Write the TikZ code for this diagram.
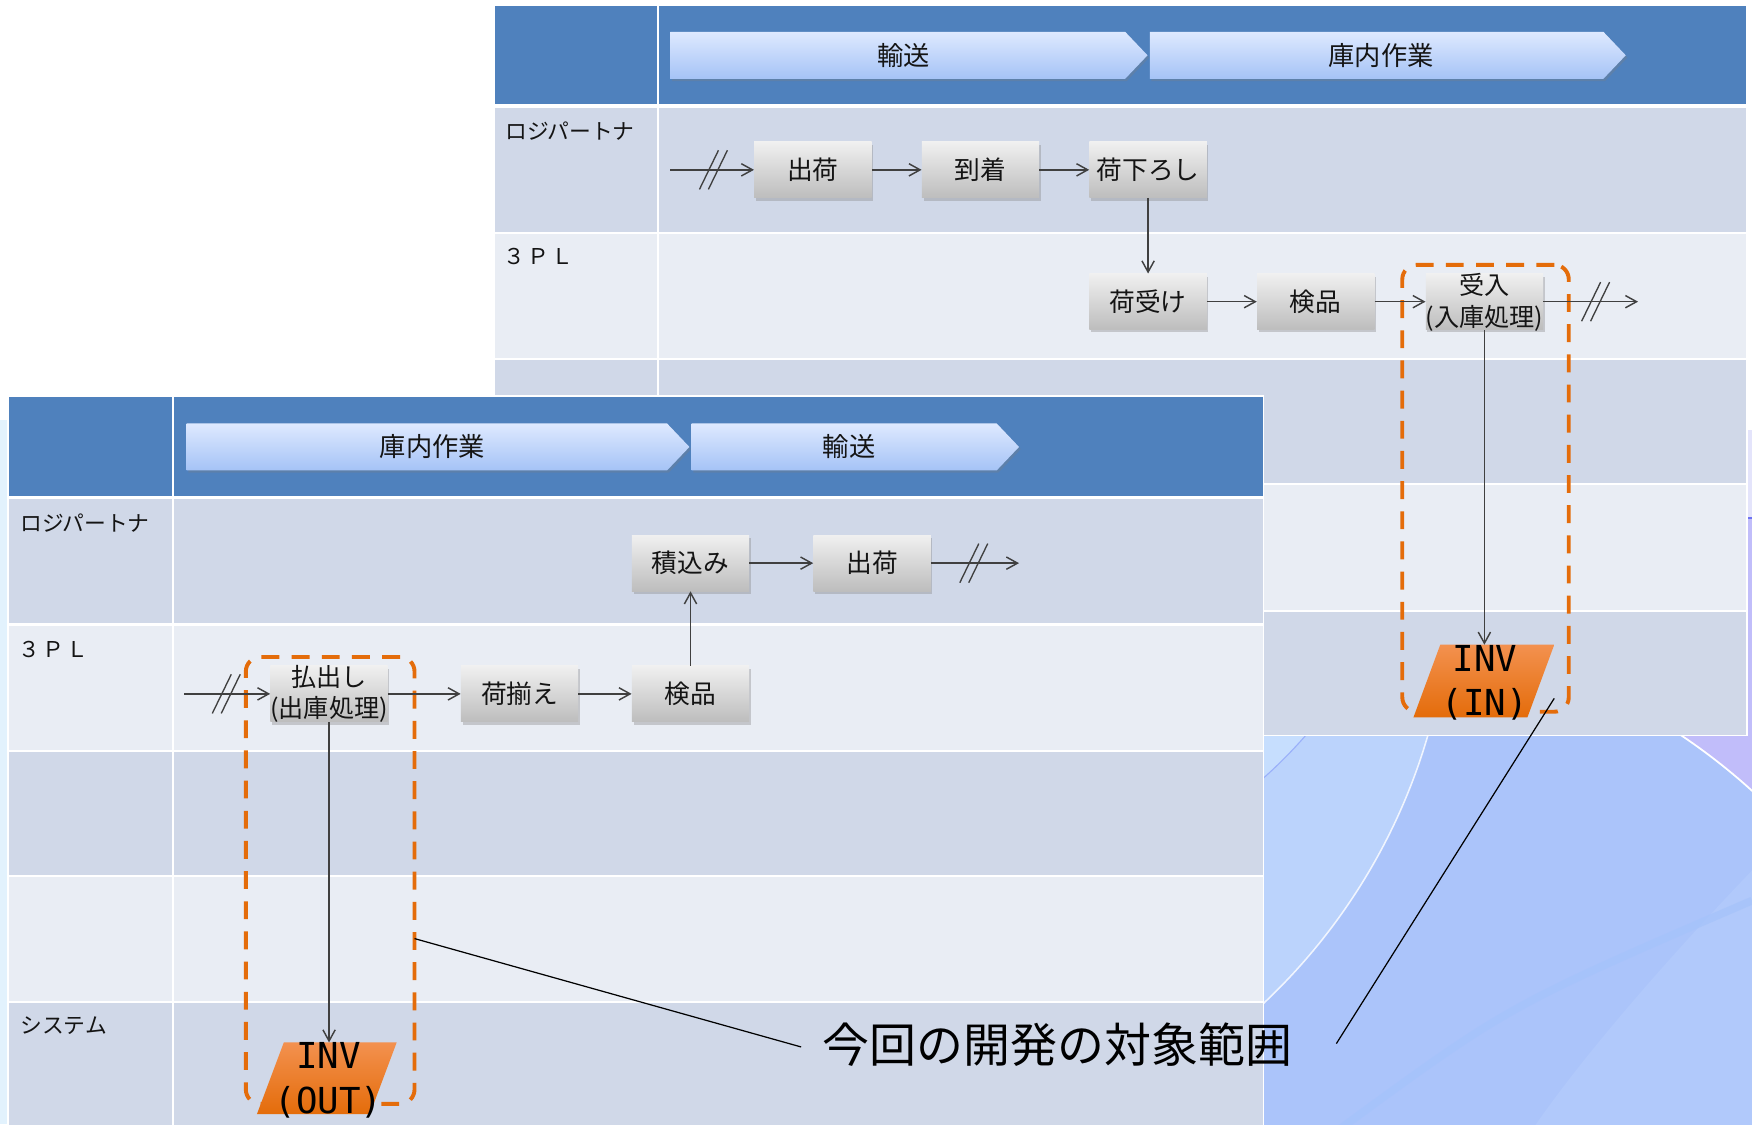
\documentclass[tikz,border=0pt]{standalone}
\usepackage{fontspec}
\newfontfamily\jpfont{Noto Sans CJK JP}
\newfontfamily\invfont{DejaVu Sans Mono}
\usetikzlibrary{shadows,arrows.meta,calc}
\definecolor{hdr}{HTML}{4F81BD}
\definecolor{rowd}{HTML}{D0D8E8}
\definecolor{rowl}{HTML}{E9EDF4}
\definecolor{org}{HTML}{E46C0A}
\definecolor{orgl}{HTML}{F3914F}
\definecolor{arrc}{HTML}{404040}
\definecolor{chevt}{HTML}{DEE9FF}
\definecolor{chevb}{HTML}{A5C3F6}
\definecolor{boxt}{HTML}{F0F0F0}
\definecolor{boxb}{HTML}{BDBDBD}
\definecolor{txt}{HTML}{141414}
\definecolor{bgblue}{HTML}{ABC4FA}
\definecolor{bglight}{HTML}{BBD3FC}
\definecolor{bglighter}{HTML}{C6DEFE}
\definecolor{bgpurple}{HTML}{C1BDFA}
\definecolor{bglr}{HTML}{B1C9FB}
\definecolor{bgstripe}{HTML}{A5C3FA}
\definecolor{leftstrip}{HTML}{E2F2FD}
\definecolor{lavender}{HTML}{E4E4FB}
\definecolor{bluel}{HTML}{6E73F2}
\tikzset{
  boxnode/.style={rectangle, minimum width=105pt, minimum height=50pt, inner sep=0pt,
    top color=boxt, bottom color=boxb,
    drop shadow={opacity=0.35, shadow xshift=1.5pt, shadow yshift=-2.5pt},
    font=\jpfont\fontsize{23}{27}\selectfont, text=txt},
  boxlabel/.style={align=center, inner sep=0pt, font=\jpfont\fontsize{22.5}{28}\selectfont, text=txt},
  flow/.style={draw=arrc, line width=1.3pt, -{Straight Barb[length=10pt,width=11pt]}},
  slashmark/.style={draw=arrc, line width=1.2pt},
  lanelabel/.style={anchor=west, inner sep=0pt, font=\jpfont\fontsize{19.5}{23}\selectfont, text=txt},
  chevlabel/.style={inner sep=0pt, font=\jpfont\fontsize{23.5}{28}\selectfont, text=txt},
  chevshape/.style={top color=chevt, bottom color=chevb,
    drop shadow={opacity=0.3, shadow xshift=1.5pt, shadow yshift=-2pt}},
  scopebox/.style={draw=org, line width=3.5pt, dash pattern=on 16pt off 11pt,
    rounded corners=13pt, minimum height=400pt, inner sep=0pt},
  invshape/.style={top color=orgl, bottom color=org},
  invlabel/.style={align=center, inner sep=0pt, font=\invfont\fontsize{32}{40}\selectfont, text=black},
  callline/.style={draw=black, line width=1.1pt},
  calltext/.style={inner sep=0pt, font=\jpfont\fontsize{42}{50}\selectfont, text=black},
}
\newcommand{\chev}[6]{%
  \path[chevshape] (#2,#4-21) -- (#3-20,#4-21) -- (#3,#4) -- (#3-20,#4+21) -- (#2,#4+21) -- cycle;
  \node[chevlabel] (#1) at (#6,#4) {#5};}
\newcommand{\dslash}[2]{%
  \draw[slashmark] (#1-12.5,#2+17.5) -- (#1+4.5,#2-17.5);
  \draw[slashmark] (#1-4.5,#2+17.5) -- (#1+12.5,#2-17.5);}
\begin{document}
\begin{tikzpicture}[x=1pt,y=-1pt]
\useasboundingbox (0,0) rectangle (1568,1006);
% ---------- background ----------
\fill[white] (0,0) rectangle (1568,1006);
\fill[leftstrip] (0,376) rectangle (6.5,1006);
\fill[lavender] (1560,385) rectangle (1568,463);
\begin{scope}
  \clip (1120,463) rectangle (1568,1006);
  \fill[bgpurple] (1120,463) rectangle (1568,1006);
  \fill[bgblue] (1198,1116) circle[radius=551pt];
  \draw[white, line width=1.6pt] (1198,1116) circle[radius=551pt];
  \fill[bglr] (1568,779) .. controls (1500,850) and (1420,940) .. (1372,1010) -- (1568,1010) -- cycle;
  \draw[bgstripe, line width=7pt, opacity=0.7] (1197,1012) .. controls (1350,900) .. (1568,806);
  \fill[bglight] (765,509) circle[radius=534pt];
  \draw[white, opacity=0.8, line width=1.4pt] (765,509) circle[radius=534pt];
  \fill[bglighter] (849,379.5) circle[radius=424pt];
  \draw[bgblue!90!blue, line width=1pt] (849,379.5) circle[radius=424pt];
  \draw[bluel, line width=1.5pt] (1555,463.5) -- (1568,463.5);
\end{scope}
% ---------- upper table ----------
\fill[white] (441.5,3.5) rectangle (1564.5,659);
\fill[hdr] (443,5) rectangle (588,93);
\fill[hdr] (590,5) rectangle (1563,93);
\foreach \t/\b/\c in {96.5/207.5/rowd, 209.5/320.5/rowl, 322.5/432.5/rowd, 434.5/545.5/rowl, 547.5/657.5/rowd}{
  \fill[\c] (443,\t) rectangle (588,\b);
  \fill[\c] (590,\t) rectangle (1563,\b);}
\node[lanelabel] (uL1) at (452,117) {ロジパートナ};
\node[lanelabel] (uL2) at (450,230) {３\kern2ptＰ\kern2ptＬ};
\chev{uC1}{600}{1027}{49.5}{輸送}{809}
\chev{uC2}{1029}{1455}{49.5}{庫内作業}{1236}
% scope box (upper)
\node[scopebox, minimum width=149pt] (scopeR) at (1329.5,437) {};
% boxes upper
\node[boxnode] (uShip) at (727.5,152) {出荷};
\node[boxnode] (uArr) at (877.5,152) {到着};
\node[boxnode] (uUnload) at (1027.5,152) {荷下ろし};
\node[boxnode] (uRecv) at (1027.5,270) {荷受け};
\node[boxnode] (uInsp) at (1177.5,270) {検品};
\node[boxnode] (uIn) at (1328.5,270) {};
\coordinate (uStart) at (600,152);
\coordinate (uEnd) at (1466,270);
\draw[flow] (uStart) -- (uShip);
\draw[flow] (uShip) -- (uArr);
\draw[flow] (uArr) -- (uUnload);
\draw[flow] (uUnload) -- (uRecv);
\draw[flow] (uRecv) -- (uInsp);
\draw[flow] (uInsp) -- (uIn);
\draw[flow] (uIn.east) -- (uEnd);
\dslash{638.5}{152}
\dslash{1428}{270}
\path[invshape] (1265,642) -- (1367,642) -- (1391,577) -- (1289,577) -- cycle;
\coordinate (invInTop) at (1328.5,577);
\draw[flow] (uIn) -- (invInTop);
\node[boxlabel] (uInTxt) at (1328.5,270.5) {受入\\(入庫処理)};
\node[invlabel] (invIn) at (1329,611) {INV\\(IN)};
% ---------- lower table ----------
\fill[white] (7,353.5) rectangle (1131.5,1010);
\fill[hdr] (8.5,355) rectangle (154,444);
\fill[hdr] (156,355) rectangle (1130,444);
\foreach \t/\b/\c in {447/558/rowd, 560/671/rowl, 673/783/rowd, 785/896/rowl, 898/1010/rowd}{
  \fill[\c] (8.5,\t) rectangle (154,\b);
  \fill[\c] (156,\t) rectangle (1130,\b);}
\node[lanelabel] (lL1) at (18,468) {ロジパートナ};
\node[lanelabel] (lL2) at (16,581) {３\kern2ptＰ\kern2ptＬ};
\node[lanelabel] (lL5) at (18,918) {システム};
\chev{lC1}{167}{617}{400}{庫内作業}{387}
\chev{lC2}{619}{912}{400}{輸送}{760}
\node[scopebox, minimum width=151pt] (scopeL) at (295.5,788) {};
\node[boxnode] (lLoad) at (618,504) {積込み};
\node[boxnode] (lShip) at (780.5,504) {出荷};
\node[boxnode] (lOut) at (294.5,621) {};
\node[boxnode] (lPick) at (465,621) {荷揃え};
\node[boxnode] (lInsp) at (618,621) {検品};
\coordinate (lStart) at (165,621);
\coordinate (lEnd) at (912,504);
\draw[flow] (lStart) -- (lOut);
\draw[flow] (lOut) -- (lPick);
\draw[flow] (lPick) -- (lInsp);
\draw[flow] (lInsp) -- (lLoad);
\draw[flow] (lLoad) -- (lShip);
\draw[flow] (lShip) -- (lEnd);
\dslash{202.5}{621}
\dslash{871.5}{504}
\path[invshape] (230,997) -- (331,997) -- (355,933) -- (254,933) -- cycle;
\coordinate (invOutTop) at (294.5,933);
\draw[flow] (lOut) -- (invOutTop);
\node[boxlabel] (lOutTxt) at (294.5,621) {払出し\\(出庫処理)};
\node[invlabel] (invOut) at (294,967) {INV\\(OUT)};
% ---------- callout ----------
\node[calltext] (callout) at (946.5,935) {今回の開発の対象範囲};
\coordinate (cL) at (371,840);
\coordinate (cLend) at (717,937);
\coordinate (cRstart) at (1196,934);
\coordinate (cR) at (1391,625);
\draw[callline] (cL) -- (cLend);
\draw[callline] (cRstart) -- (cR);
\end{tikzpicture}
\end{document}
